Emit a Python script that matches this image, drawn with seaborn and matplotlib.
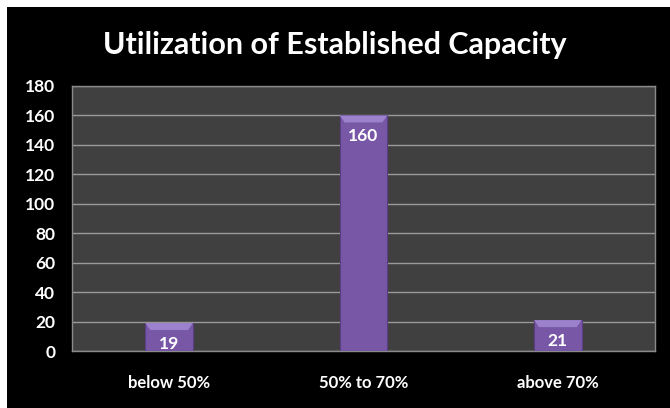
import matplotlib
matplotlib.use("Agg")
import matplotlib.pyplot as plt
import matplotlib.patches as mpatches
import seaborn as sns
import pandas as pd

categories = ["below 50%", "50% to 70%", "above 70%"]
units = [19, 160, 21]
y_ticks = [0, 20, 40, 60, 80, 100, 120, 140, 160, 180]

df = pd.DataFrame({"category": categories, "units": units})

sns.set_theme(style="dark")
plt.rcParams["font.family"] = ["Lato", "DejaVu Sans"]

fig = plt.figure(figsize=(6.70, 4.08), dpi=100, facecolor="black")
# white strip along the top and left edge
fig.patches.append(mpatches.Rectangle((0, 1 - 7 / 408), 1, 7 / 408, transform=fig.transFigure,
                                      facecolor="white", edgecolor="none", zorder=0))
fig.patches.append(mpatches.Rectangle((0, 0), 7 / 670, 1, transform=fig.transFigure,
                                      facecolor="white", edgecolor="none", zorder=0))

ax = fig.add_axes([72 / 670, 1 - 351 / 408, (655 - 72) / 670, (351 - 86) / 408])
ax.set_facecolor("#404040")

sns.barplot(data=df, x="category", y="units", ax=ax, color="#7858a6",
            width=0.245, saturation=1, edgecolor="#5b3f85", linewidth=0.8, zorder=3)

ax.set_ylim(0, 180)
ax.set_yticks(y_ticks)
ax.yaxis.grid(True, color="#9a9a9a", linewidth=1.0, zorder=0)
ax.xaxis.grid(False)
ax.set_axisbelow(True)
for s in ax.spines.values():
    s.set_visible(True)
    s.set_color("#8a8a8a")
    s.set_linewidth(1.0)

ax.set_xlabel("")
ax.set_ylabel("")
ax.tick_params(axis="y", length=0, pad=12, labelsize=12.5, labelcolor="white")
ax.tick_params(axis="x", length=0, pad=17, labelsize=12, labelcolor="white")
for lbl in ax.get_yticklabels() + ax.get_xticklabels():
    lbl.set_fontweight("bold")

# value label inside each bar, plus a lighter bevelled cap on its top edge
for patch, val in zip(list(ax.patches), units):
    x0 = patch.get_x()
    w = patch.get_width()
    top = patch.get_height()
    ax.annotate(f"{val}", xy=(x0 + w / 2, top), xytext=(0, -15),
                textcoords="offset points", ha="center", va="center",
                color="white", fontsize=12.5, fontweight="bold", zorder=6)
    (lx, ty), (rx, _) = ax.transData.transform([(x0, top), (x0 + w, top)])
    cap = mpatches.Polygon(
        [(lx, ty), (rx, ty), (rx - 5, ty - 7), (lx + 5, ty - 7)],
        closed=True, transform=None, facecolor="#9c82cc", edgecolor="none", zorder=4)
    fig.patches.append(cap)

fig.text(0.5, 1 - 45 / 408, "Utilization of Established Capacity", ha="center", va="center",
         color="white", fontsize=22, fontweight="bold")

fig.savefig("out.png", dpi=100, facecolor="black")
